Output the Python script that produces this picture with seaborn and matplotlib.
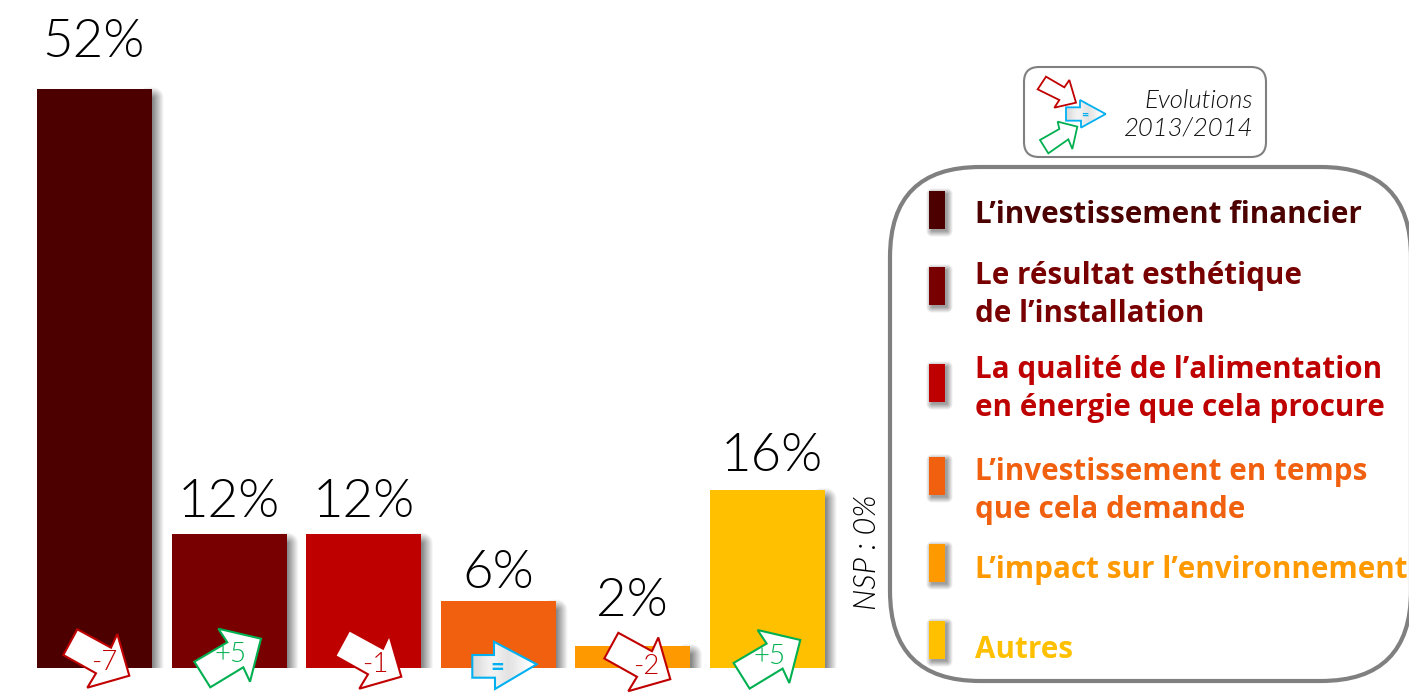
import numpy as np
import pandas as pd
import matplotlib
matplotlib.use("Agg")
import matplotlib.pyplot as plt
from matplotlib.patches import Polygon, FancyBboxPatch, Rectangle
import seaborn as sns

# ---- data ----
categories = ["L’investissement financier", "Le résultat esthétique\nde l’installation",
              "La qualité de l’alimentation\nen énergie que cela procure",
              "L’investissement en temps\nque cela demande", "L’impact sur l’environnement", "Autres"]
values = [52, 12, 12, 6, 2, 16]
evolutions = ["-7", "+5", "-1", "=", "-2", "+5"]
colors = ["#4C0000", "#780000", "#BE0000", "#F0600E", "#FF9900", "#FFC000"]
note = "NSP : 0%"
evo_title = "Evolutions\n2013/2014"

# ---- layout (pixels) ----
W, H = 1409, 695
THIN = 300
sns.set_theme(style="white")
plt.rcParams["font.family"] = ["Lato", "DejaVu Sans"]
fig = plt.figure(figsize=(W / 100, H / 100), dpi=100, facecolor="white")

ax_sh = fig.add_axes([0, 0, 1, 1], zorder=0)
ax = fig.add_axes([0, 0, 1, 1], zorder=1)
ov = fig.add_axes([0, 0, 1, 1], zorder=2)

df = pd.DataFrame({"cat": categories, "val": values})
sns.barplot(data=df, x="cat", y="val", hue="cat", palette=colors, saturation=1, dodge=False,
            width=115 / 134.6, legend=False, linewidth=0, ax=ax)
ax.set_xlim(-94.5 / 134.6, (W - 94.5) / 134.6)
ax.set_ylim(-27 / 11.135, 668 / 11.135)
ax.axis("off")
ax.patch.set_visible(False)

for a in (ax_sh, ov):
    a.set_xlim(0, W)
    a.set_ylim(H, 0)
    a.axis("off")
    a.patch.set_visible(False)


def shadow(target, x0, y0, x1, y1, blur, amax, ymax=None, z=1):
    xs = np.arange(int(x0 - blur), int(x1 + blur) + 1)
    ys = np.arange(int(y0 - blur), int(y1 + blur) + 1)
    X, Y = np.meshgrid(xs + .5, ys + .5)
    dx = np.maximum(np.maximum(x0 - X, X - x1), 0)
    dy = np.maximum(np.maximum(y0 - Y, Y - y1), 0)
    al = amax * np.clip(1 - np.hypot(dx, dy) / blur, 0, 1)
    if ymax is not None:
        al[Y > ymax] = 0
    img = np.zeros(al.shape + (4,))
    img[..., :3] = 0.25
    img[..., 3] = al
    target.imshow(img, extent=(xs[0], xs[-1] + 1, ys[-1] + 1, ys[0]), aspect="auto",
                  interpolation="bilinear", zorder=z)


to_px = ax.transData + ov.transData.inverted()
label_gap = [32, 17, 17, 13, 30, 19]
label_dx = [-1, 0, 0, 0, -1, 4]
bars = sorted([p for p in ax.patches if p.get_height() > 0], key=lambda p: p.get_x())
for bar, v, gap, dx in zip(bars, values, label_gap, label_dx):
    (x0, y1) = to_px.transform((bar.get_x(), bar.get_y()))
    (x1, y0) = to_px.transform((bar.get_x() + bar.get_width(), bar.get_y() + bar.get_height()))
    shadow(ax_sh, x1 - 4, y0 + 9, x1 + 1, y1 + 10, 11, 0.62, ymax=y1)
    ov.text((x0 + x1) / 2 + dx, y0 - gap, f"{v}%", ha="center", va="baseline",
            fontsize=38, color="black", fontweight=THIN)

RED, GREEN, BLUE = "#C00000", "#00B050", "#00B0F0"
down = np.array([(77.3, 629.3), (111, 647.7), (117.3, 634), (129.3, 675.7), (87.3, 687.7), (96, 673.3), (63.3, 655)])
up = np.array([(218.3, 628.7), (261, 638.7), (250, 681.7), (243.3, 667.3), (210.3, 687.3), (194.3, 661.7), (227.3, 642.3)])
eq = np.array([(472.3, 655), (494, 655), (494, 641.7), (536.7, 664.3), (495, 689), (495, 677.7), (472.3, 677.7)])


def gradient_arrow(pts, lw):
    g = np.array([[0.85, 0.92, 0.96, 0.92, 0.88, 0.92, 0.97, 1.0]])
    poly = Polygon(pts, closed=True, fc="none", ec=BLUE, lw=lw, zorder=6, joinstyle="miter")
    ov.add_patch(poly)
    im = ov.imshow(g, cmap="gray", vmin=0, vmax=1, aspect="auto", interpolation="bicubic", zorder=5,
                   extent=(pts[:, 0].min(), pts[:, 0].max(), pts[:, 1].max(), pts[:, 1].min()))
    im.set_clip_path(Polygon(pts, closed=True, transform=ov.transData))


def arrow(pts, col, lw=1.5):
    ov.add_patch(Polygon(pts, closed=True, fc="white", ec=col, lw=lw, zorder=5, joinstyle="miter"))


arrow_specs = [(down, (0, 0), RED, (104, 663)), (up, (0, 0), GREEN, (231, 655)),
               (down, (272, 1), RED, (375, 664)), (eq, (0, 0), BLUE, (497, 667)),
               (down, (541, 3.5), RED, (646, 667)), (up, (539.3, 1.3), GREEN, (770, 657))]
for (pts, off, col, (tx, ty)), lab in zip(arrow_specs, evolutions):
    p = pts + np.array(off)
    if lab == "=":
        gradient_arrow(p, 1.5)
        ov.text(tx, ty, lab, color=col, fontsize=17, fontweight="bold", ha="center", va="center", zorder=7)
    else:
        arrow(p, col)
        ov.text(tx, ty, lab, color=col, fontsize=20, fontweight=THIN, ha="center", va="center", zorder=7)

# evolutions key
ov.add_patch(FancyBboxPatch((1024, 67), 242, 90, boxstyle="round,pad=0,rounding_size=15",
                            fc="white", ec="#808080", lw=1.5, zorder=3))
k = np.array([1010, 55])
key_red = np.array([(108, 65), (163, 97), (178, 75), (198, 143), (133, 158), (148, 135), (83, 103)]) / 3 + k
key_green = np.array([(143, 200), (202, 215), (187, 282), (175, 253), (115, 295), (90, 255), (148, 222)]) / 3 + k
key_blue = np.array([(168, 157), (210, 157), (210, 135), (287, 177), (213, 218), (213, 197), (168, 197)]) / 3 + k
arrow(key_red, RED, 1.3)
arrow(key_green, GREEN, 1.3)
gradient_arrow(key_blue, 1.3)
ov.text(1085, 115, "=", color=BLUE, fontsize=9, fontweight="bold", ha="center", va="center", zorder=7)
ov.text(1253, 115, evo_title, ha="right", va="center", fontsize=18.5, style="italic", fontweight=THIN,
        color="#111111", linespacing=1.18, zorder=7)

# big legend box
ov.add_patch(FancyBboxPatch((890, 167), 521, 514, boxstyle="round,pad=0,rounding_size=90",
                            fc="white", ec="#808080", lw=3, zorder=3))
marker_tops = [191, 267, 364, 457, 544, 621]
text_y = [215, 295, 389, 491, 570, 650]
for name, col, top, ty in zip(categories, colors, marker_tops, text_y):
    shadow(ov, 932, top + 3, 947, top + 40, 6, 0.5, z=4)
    ov.add_patch(Rectangle((929, top), 16, 38, fc=col, ec="none", zorder=5))
    ov.text(975, ty, name, color=col, fontsize=21.3, fontweight="bold", family="Open Sans",
            ha="left", va="center", linespacing=1.33, zorder=7)

ov.text(868, 552, note, rotation=90, style="italic", fontsize=22, fontweight=THIN,
        ha="center", va="center", color="black")

for a in (ax_sh, ov):
    a.set_xlim(0, W)
    a.set_ylim(H, 0)

fig.savefig("out.png", dpi=100, facecolor="white")
